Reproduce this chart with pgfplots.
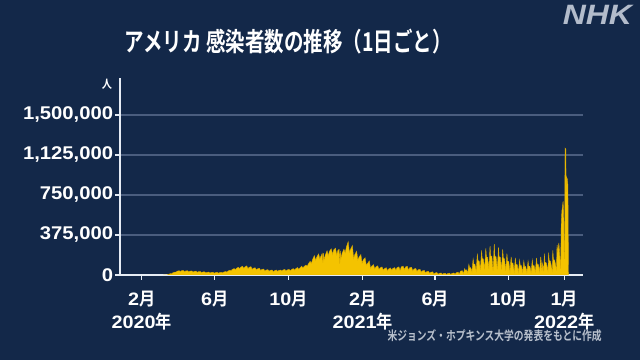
\documentclass[border=0pt]{standalone}
\usepackage{pgfplots}
\pgfplotsset{compat=1.18}
\usepackage{fontspec}
\setmainfont{Noto Sans CJK JP}[UprightFont=* Bold]
\newfontfamily\jpfont{Noto Sans CJK JP}[UprightFont=* Bold, FakeStretch=0.9]
\newfontfamily\titlefont{Noto Sans CJK JP}[UprightFont=* Bold, FakeStretch=0.75]
\newfontfamily\notefont{Noto Sans CJK JP}[UprightFont=* Bold, FakeStretch=0.78]
\newfontfamily\numfont{Liberation Sans}[UprightFont=* Bold, FakeStretch=1.1]
\newfontfamily\nhkfont{Liberation Sans}[UprightFont=* Bold Italic, FakeStretch=1.14]
\definecolor{bgcol}{HTML}{132849}
\definecolor{gridcol}{HTML}{4A5D7E}
\definecolor{axiscol}{HTML}{E6ECF4}
\definecolor{goldfill}{HTML}{F4C300}
\definecolor{goldedge}{HTML}{D9A900}
\definecolor{notecol}{HTML}{B8C0CC}
\definecolor{nhkcol}{HTML}{B3BCCB}
\newcommand\mo[1]{{\numfont #1}{\jpfont 月}}
\newcommand\yr[1]{{\numfont #1}{\jpfont 年}}
\begin{document}
\begin{tikzpicture}
\fill[bgcol] (0,0) rectangle (480pt,270pt);
\useasboundingbox (0,0) rectangle (480pt,270pt);
\begin{axis}[
  at={(90pt,63.75pt)}, anchor=south west,
  scale only axis, width=347.25pt, height=147.75pt,
  xmin=-36, xmax=731, ymin=0, ymax=1846.875,
  axis lines=left,
  axis line style={-, draw=axiscol, line width=1.1pt},
  tick align=outside,
  major tick length=3.5pt,
  tick style={draw=axiscol, line width=1pt},
  ymajorgrids,
  grid style={draw=gridcol, line width=1.1pt},
  xtick={0,121,243,366,486,608,700},
  xticklabels={{\mo{2}\\\yr{2020}}, \mo{6}, \mo{10}, {\mo{2}\\\yr{2021}}, \mo{6}, \mo{10}, {\mo{1}\\\yr{2022}}},
  ytick={0,375,750,1125,1500},
  yticklabels={{0},{375,000},{750,000},{1,125,000},{1,500,000}},
  xticklabel style={font=\fontsize{13.5}{17.25}\selectfont, text=white, align=center, inner sep=0pt, yshift=-8pt},
  yticklabel style={font=\numfont\fontsize{13.8}{16}\selectfont, text=white, inner sep=0pt, xshift=-1.5pt},
]
\addplot[fill=goldfill, draw=goldedge, line width=0.3pt] coordinates {
(36,0) (42,0) (43,3) (45,8) (48,14)
(50,14) (52,22) (55,27)
(57,28) (59,36) (62,40)
(64,32) (66,40) (69,42)
(71,30) (73,38) (76,40)
(78,29) (80,36) (83,38)
(85,27) (87,34) (90,36)
(92,25) (94,31) (97,33)
(99,22) (101,28) (104,30)
(106,20) (108,25) (111,27)
(113,18) (115,24) (118,26)
(120,17) (122,23) (125,25)
(127,17) (129,23) (132,25)
(134,20) (136,28) (139,32)
(141,27) (143,37) (146,45)
(148,40) (150,52) (153,60)
(155,50) (157,63) (160,72)
(162,60) (164,73) (167,82)
(169,62) (171,76) (174,85)
(176,60) (178,72) (181,78)
(183,52) (185,64) (188,68)
(190,47) (192,58) (195,63)
(197,42) (199,52) (202,56)
(204,37) (206,46) (209,50)
(211,35) (213,44) (216,47)
(218,30) (220,40) (223,47)
(225,34) (227,42) (230,47)
(232,38) (234,47) (237,52)
(239,38) (241,47) (244,53)
(246,40) (248,50) (251,60)
(253,46) (255,58) (258,70)
(260,53) (262,66) (265,82)
(267,66) (269,80) (272,93)
(274,82) (276,104) (279,128)
(281,108) (283,145) (286,182)
(288,138) (290,168) (293,198)
(295,152) (297,178) (299,202) (300,115) (301,205)
(302,145) (304,185) (307,228)
(309,182) (311,222) (314,246)
(316,192) (318,236) (321,252)
(323,188) (325,232) (327,240) (328,105) (329,225)
(330,155) (332,205) (335,242)
(337,208) (339,262) (342,312)
(344,212) (346,242) (349,276)
(351,155) (353,192) (356,222)
(358,142) (360,168) (363,192)
(365,112) (367,142) (370,162)
(372,92) (374,108) (377,132)
(379,62) (381,82) (384,97)
(386,57) (388,76) (391,86)
(393,52) (395,66) (398,76)
(400,46) (402,58) (405,69)
(407,40) (409,56) (412,66)
(414,46) (416,61) (419,69)
(421,46) (423,69) (426,76)
(428,42) (430,76) (433,83)
(435,51) (437,76) (440,81)
(442,46) (444,69) (447,73)
(449,39) (451,56) (454,61)
(456,33) (458,49) (461,53)
(463,26) (465,39) (468,43)
(470,21) (472,31) (475,35)
(477,15) (479,26) (482,29)
(484,9) (486,19) (489,23)
(491,7) (493,15) (496,19)
(498,6) (500,14) (503,16)
(505,5) (507,14) (510,17)
(512,4) (514,15) (517,19)
(519,6) (521,21) (524,26)
(526,9) (528,36) (531,40)
(533,14) (535,60) (536,45) (538,48)
(540,22) (542,100) (543,70) (545,68)
(547,32) (549,150) (550,105) (552,100)
(554,40) (556,200) (557,135) (559,130)
(561,48) (563,230) (564,155) (566,150)
(568,52) (570,250) (571,170) (573,165)
(575,56) (577,270) (578,180) (580,175)
(582,40) (584,290) (585,175) (587,170)
(589,52) (591,260) (592,170) (594,165)
(596,50) (598,240) (599,160) (601,150)
(603,40) (605,200) (606,130) (608,125)
(610,35) (612,170) (613,115) (615,110)
(617,32) (619,160) (620,100) (622,98)
(624,28) (626,140) (627,90) (629,88)
(631,25) (633,130) (634,82) (636,80)
(638,25) (640,130) (641,82) (643,82)
(645,27) (647,140) (648,90) (650,88)
(652,30) (654,160) (655,100) (657,98)
(659,33) (661,170) (662,108) (663,40) (664,110)
(666,35) (667,200) (668,120) (670,115)
(673,40) (674,210) (675,135) (677,130)
(680,42) (681,230) (682,145) (684,140)
(687,55) (688,280) (689,220) (690,250) (691,300)
(694,60) (695,500) (696,600) (697,640) (698,690) (699,580)
(700,150) (700.8,300) (701.2,1190) (702.6,1180) (703.1,780) (703.6,920) (705,900) (706,840) (707,0)
} \closedcycle;
\end{axis}
\node[text=white, font=\jpfont\fontsize{8.5}{10}\selectfont, inner sep=0pt] at (80.25pt,207pt) {人};
\node[text=white, font=\titlefont\fontsize{19.5}{22}\selectfont, inner sep=0pt] at (216.25pt,238.9pt) {アメリカ 感染者数の推移（1日ごと）};
\node[text=nhkcol, font=\nhkfont\fontsize{21}{24}\selectfont, inner sep=0pt] at (448.1pt,258.75pt) {NHK};
\node[text=notecol, font=\notefont\fontsize{9.4}{11}\selectfont, inner sep=0pt, anchor=east] at (451.5pt,18pt) {米ジョンズ・ホプキンス大学の発表をもとに作成};
\end{tikzpicture}
\end{document}
